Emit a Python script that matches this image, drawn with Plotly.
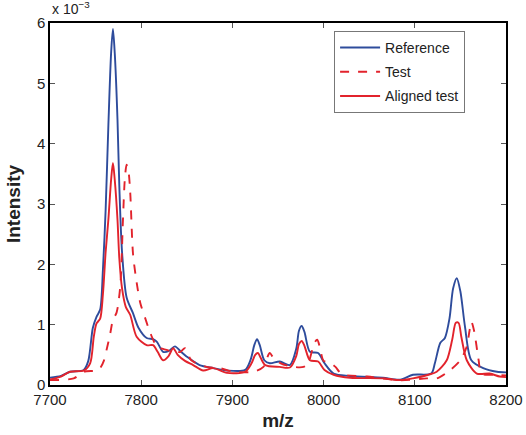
import plotly.graph_objects as go

# m/z and intensity (x 1e-3)
ref_x = [7700, 7712, 7722, 7737, 7742, 7747, 7751, 7755, 7758, 7761, 7764, 7767, 7769, 7771, 7774, 7776,
         7779, 7784, 7791, 7797, 7806, 7813, 7817, 7824, 7830, 7837, 7843, 7850, 7864, 7879, 7894, 7914,
         7920, 7924, 7927, 7930, 7935, 7941, 7952, 7963, 7970, 7973, 7976, 7979, 7985, 7994, 8001, 8011,
         8029, 8065, 8084, 8098, 8118, 8122, 8128, 8133, 8138, 8142, 8146, 8150, 8155, 8162, 8175, 8190, 8200]
ref_y = [0.12, 0.15, 0.22, 0.25, 0.40, 0.95, 1.13, 1.25, 1.90, 2.90, 4.30, 5.50, 5.90, 5.50, 4.40, 3.30,
         2.20, 1.45, 1.19, 0.95, 0.78, 0.76, 0.72, 0.55, 0.56, 0.64, 0.56, 0.47, 0.33, 0.28, 0.24, 0.25,
         0.42, 0.66, 0.76, 0.66, 0.41, 0.36, 0.39, 0.33, 0.60, 0.90, 0.98, 0.88, 0.55, 0.53, 0.36, 0.19,
         0.15, 0.12, 0.09, 0.17, 0.19, 0.36, 0.70, 0.78, 1.10, 1.60, 1.77, 1.55, 0.97, 0.41, 0.28, 0.22, 0.21]

test_x = [7700, 7726, 7737, 7751, 7755, 7759, 7762, 7766, 7769, 7773, 7777, 7780, 7782, 7784, 7786, 7788,
          7791, 7795, 7799, 7805, 7810, 7818, 7824, 7835, 7843, 7848, 7855, 7872, 7886, 7901, 7923, 7934,
          7938, 7941, 7945, 7953, 7967, 7978, 7983, 7987, 7990, 7993, 7996, 8000, 8006, 8013, 8020,
          8048, 8084, 8113, 8124, 8139, 8150, 8157, 8160, 8162, 8165, 8170, 8173, 8188, 8200]
test_y = [0.08, 0.11, 0.22, 0.24, 0.28, 0.40, 0.58, 0.85, 1.08, 1.20, 1.63, 2.74, 3.40, 3.65, 3.55, 3.18,
          2.18, 1.70, 1.36, 1.08, 0.86, 0.62, 0.60, 0.55, 0.55, 0.61, 0.41, 0.30, 0.28, 0.22, 0.22, 0.30,
          0.45, 0.53, 0.45, 0.36, 0.30, 0.30, 0.36, 0.55, 0.70, 0.75, 0.62, 0.40, 0.38, 0.30, 0.18,
          0.14, 0.08, 0.11, 0.11, 0.25, 0.41, 0.64, 0.90, 1.05, 0.90, 0.41, 0.19, 0.17, 0.16]

aligned_x = [7700, 7712, 7722, 7737, 7744, 7748, 7751, 7755, 7758, 7761, 7764, 7767, 7769, 7771, 7774, 7776,
             7779, 7783, 7788, 7795, 7806, 7813, 7818, 7824, 7830, 7835, 7840, 7848, 7857, 7868, 7879, 7894,
             7914, 7921, 7925, 7928, 7931, 7936, 7952, 7963, 7970, 7973, 7976, 7979, 7985, 7994, 8001, 8011,
             8029, 8065, 8084, 8098, 8115, 8124, 8135, 8141, 8145, 8148, 8151, 8157, 8168, 8182, 8193, 8200]
aligned_y = [0.09, 0.14, 0.22, 0.24, 0.36, 0.80, 1.02, 1.10, 1.50, 2.20, 2.74, 3.40, 3.68, 3.40, 2.74, 2.10,
             1.60, 1.30, 1.16, 0.80, 0.66, 0.66, 0.55, 0.41, 0.48, 0.61, 0.50, 0.40, 0.33, 0.24, 0.28, 0.20,
             0.22, 0.36, 0.50, 0.53, 0.45, 0.33, 0.30, 0.29, 0.48, 0.68, 0.73, 0.65, 0.41, 0.39, 0.25, 0.17,
             0.12, 0.11, 0.08, 0.11, 0.17, 0.22, 0.41, 0.75, 1.03, 1.03, 0.80, 0.41, 0.19, 0.19, 0.14, 0.13]

x_ticks = [7700, 7800, 7900, 8000, 8100, 8200]
y_ticks = [0, 1, 2, 3, 4, 5, 6]

BLUE = "#2E4C9C"
RED = "#E2232C"
FONT = "Liberation Sans, Arial"

fig = go.Figure()
fig.add_trace(go.Scatter(x=ref_x, y=ref_y, mode="lines", name="Reference", legendgroup="a",
                         line=dict(color=BLUE, width=1.9, shape="spline", smoothing=0.8)))
fig.add_trace(go.Scatter(x=test_x, y=test_y, mode="lines", name="Test", legendgroup="b",
                         line=dict(color=RED, width=1.9, dash="dash", shape="spline", smoothing=0.8)))
fig.add_trace(go.Scatter(x=aligned_x, y=aligned_y, mode="lines", name="Aligned test", legendgroup="c",
                         line=dict(color=RED, width=1.9, shape="spline", smoothing=0.8)))

axis_common = dict(showgrid=False, zeroline=False, showline=True, linecolor="black", linewidth=1.5,
                   mirror="ticks", ticks="inside", ticklen=5, tickcolor="#555555",
                   tickfont=dict(family=FONT, size=15, color="#222222"))

fig.update_xaxes(range=[7700, 8200], tickvals=x_ticks, ticktext=[str(v) for v in x_ticks],
                 automargin=False,
                 title=dict(text="<b>m/z</b>", font=dict(family=FONT, size=19, color="#222222"), standoff=7),
                 **axis_common)
fig.update_yaxes(range=[0, 6], tickvals=y_ticks, ticktext=[str(v) for v in y_ticks],
                 automargin=False,
                 title=dict(text="<b>Intensity</b>", font=dict(family=FONT, size=19, color="#222222"), standoff=11),
                 **axis_common)

fig.add_annotation(x=0, y=1, xref="paper", yref="paper", xanchor="left", yanchor="bottom",
                   text="x 10<sup>−3</sup>", showarrow=False, yshift=4,
                   font=dict(family=FONT, size=14, color="#222222"))

fig.update_layout(width=526, height=435, margin=dict(l=50, r=20, t=23, b=50, autoexpand=False),
                  plot_bgcolor="white", paper_bgcolor="white",
                  legend=dict(x=0.623, y=0.978, xanchor="left", yanchor="top",
                              bordercolor="#777777", borderwidth=1, bgcolor="white",
                              font=dict(family=FONT, size=14, color="#222222"),
                              tracegroupgap=3, itemwidth=40),
                  showlegend=True)

# remove the page's default body margin so the figure sits at the window's top-left corner
fig.write_html("out.html", config={"displayModeBar": False},
               post_script="document.body.style.margin='0';")
